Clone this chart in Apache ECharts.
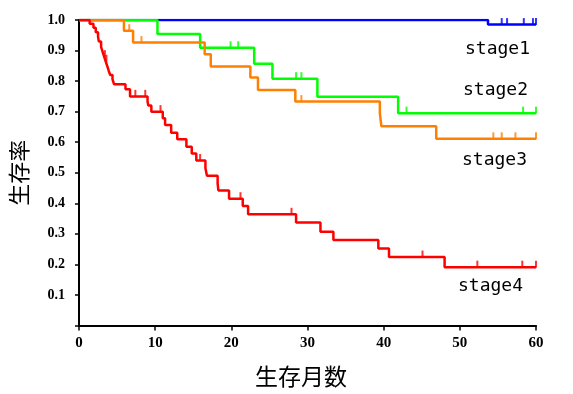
<!DOCTYPE html>
<html>
<head>
<meta charset="utf-8">
<script src="https://cdn.jsdelivr.net/npm/echarts@6/dist/echarts.min.js"></script>
<style>
html,body{margin:0;padding:0;background:#fff;}
#chart{width:573px;height:394px;}
</style>
</head>
<body>
<div id="chart"></div>
<script>
// Kaplan-Meier step data: [month, survival]
var stage1Steps = [[0,1],[53.7,0.985],[60,0.985]];
var stage2Steps = [[0,1],[10.3,0.954],[15.9,0.909],[23.0,0.857],[25.4,0.808],[31.3,0.749],[41.9,0.695],[60,0.695]];
var stage3Steps = [[0,1],[5.9,0.965],[7.1,0.926],[16.5,0.888],[17.3,0.848],[22.5,0.812],[23.5,0.771],[28.4,0.733],[39.5,0.695],[39.7,0.652],[46.9,0.611],[60,0.611]];
var stage4Steps = [[0,1],[1.4,0.988],[1.9,0.975],[2.2,0.960],[2.5,0.945],[2.6,0.930],[2.9,0.912],[3.1,0.896],[3.3,0.880],[3.5,0.865],[3.7,0.850],[3.9,0.834],[4.1,0.820],[4.4,0.806],[4.6,0.790],[6.1,0.773],[6.7,0.750],[9.0,0.733],[9.1,0.720],[9.5,0.700],[11.0,0.678],[11.3,0.656],[12.1,0.631],[12.9,0.610],[14.1,0.585],[14.8,0.563],[15.4,0.540],[16.6,0.515],[16.8,0.490],[18.2,0.465],[18.3,0.442],[19.7,0.415],[21.5,0.391],[22.2,0.364],[28.5,0.337],[31.7,0.307],[33.4,0.280],[39.3,0.252],[40.7,0.224],[48.0,0.191],[60,0.191]];

// censored observation times
var stage1Censor = [55.5,56.2,58.4,59.6,60];
var stage2Censor = [19.9,20.9,28.5,29.2,43.0,58.3,60];
var stage3Censor = [6.6,8.2,29.2,54.4,55.5,57.3,60];
var stage4Censor = [3.4,3.6,7.4,8.7,10.7,15.9,21.2,27.9,45.1,52.3,58.2,60];

var stageNames = ['stage1','stage2','stage3','stage4'];
var stageColors = ['#0000ff','#00ff00','#ff8000','#ff0000'];
var xTicks = [0,10,20,30,40,50,60];
var yTicks = [0.1,0.2,0.3,0.4,0.5,0.6,0.7,0.8,0.9,1.0];

function survAt(steps, t){
  var s = steps[0][1];
  for (var i=0;i<steps.length;i++){ if (steps[i][0] <= t) s = steps[i][1]; }
  return s;
}
function censorPts(steps, times){ return times.map(function(t){ return [t, survAt(steps,t)]; }); }

var allSteps = [stage1Steps, stage2Steps, stage3Steps, stage4Steps];
var allCensor = [stage1Censor, stage2Censor, stage3Censor, stage4Censor];

var series = [];
for (var k=0;k<4;k++){
  series.push({
    type:'line', name: stageNames[k], data: allSteps[k], step:'end', showSymbol:false, symbol:'none',
    lineStyle:{color: stageColors[k], width:2.5}, z: 2+k*2, silent:true
  });
  series.push({
    type:'scatter', data: censorPts(allSteps[k], allCensor[k]), symbol:'rect', symbolSize:[2,7], symbolOffset:[0,-3],
    itemStyle:{color: stageColors[k]}, z: 3+k*2, silent:true
  });
}

var chart = echarts.init(document.getElementById('chart'), null, {renderer:'canvas'});
chart.setOption({
  animation:false,
  grid:{left:77, right:37, top:20, bottom:68.5, containLabel:false},
  xAxis:{
    type:'value', min:0, max:60, interval:10,
    name:'生存月数', nameLocation:'middle', nameGap:39,
    nameTextStyle:{fontFamily:'Noto Sans CJK JP', fontSize:23, color:'#000', padding:[0,13,0,0]},
    axisLine:{lineStyle:{color:'#000', width:2}},
    axisTick:{show:true, length:5, lineStyle:{color:'#000', width:1.5}},
    axisLabel:{margin:10, fontFamily:'Liberation Serif', fontWeight:'bold', fontSize:15, color:'#000',
      formatter:function(v){ return xTicks.indexOf(v)>=0 ? String(v) : ''; }},
    splitLine:{show:false}
  },
  yAxis:{
    type:'value', min:0, max:1, interval:0.1,
    name:'生存率', nameLocation:'middle', nameGap:49, nameRotate:90,
    nameTextStyle:{fontFamily:'Noto Sans CJK JP', fontSize:22, color:'#000'},
    axisLine:{show:true, lineStyle:{color:'#000', width:2}},
    axisTick:{show:true, length:4, lineStyle:{color:'#000', width:1.5}},
    axisLabel:{margin:14, fontFamily:'Liberation Serif', fontWeight:'bold', fontSize:14, color:'#000',
      formatter:function(v){
        for (var i=0;i<yTicks.length;i++){ if (Math.abs(yTicks[i]-v)<1e-6) return yTicks[i].toFixed(1); }
        return '';
      }},
    splitLine:{show:false}
  },
  graphic:[
    {type:'text', left:465, top:40, style:{text:stageNames[0], font:'18px "DejaVu Sans Mono"', fill:'#000'}},
    {type:'text', left:463, top:81, style:{text:stageNames[1], font:'18px "DejaVu Sans Mono"', fill:'#000'}},
    {type:'text', left:462, top:151, style:{text:stageNames[2], font:'18px "DejaVu Sans Mono"', fill:'#000'}},
    {type:'text', left:458, top:277, style:{text:stageNames[3], font:'18px "DejaVu Sans Mono"', fill:'#000'}}
  ],
  series: series
});
</script>
</body>
</html>
